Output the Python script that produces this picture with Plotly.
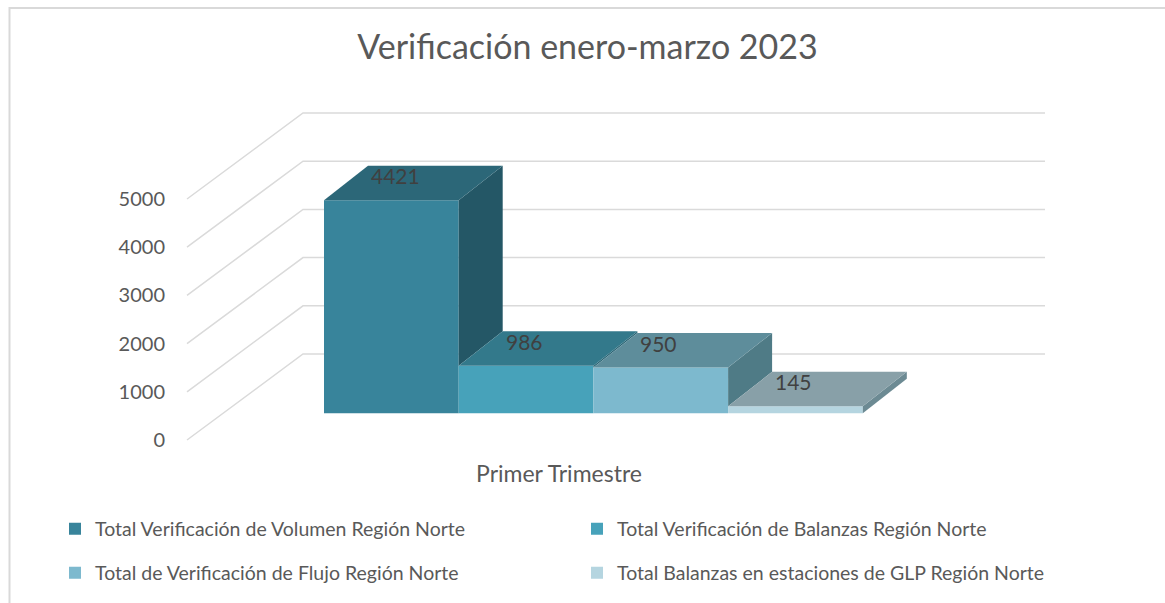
import plotly.graph_objects as go

# datos
categoria = "Primer Trimestre"
series = [
    "Total Verificación de Volumen Región Norte",
    "Total Verificación de Balanzas Región Norte",
    "Total de Verificación de Flujo Región Norte",
    "Total Balanzas en estaciones de GLP Región Norte",
]
valores = [4421, 986, 950, 145]
ticks_y = [0, 1000, 2000, 3000, 4000, 5000]

# colores: cara frontal, cara superior, cara lateral
color_frente = ["#38849B", "#47A2BA", "#7DB9CE", "#B5D5E0"]
color_arriba = ["#2C6778", "#33798B", "#5E8D9B", "#88A0A8"]
color_lado = ["#245766", "#2A6575", "#4F7B86", "#6C8A93"]

GRIS = "#595959"
FUENTE = "Lato"

# geometria en pixeles (falso 3D)
W, H = 1165, 603
L, R, T, B = 166, 1050, 95, 458
X0, PX_BAR = 324, 134.7
Y0, PX_VAL = 413.3, 0.0482


def xd(px):
    return (px - X0) / PX_BAR


def yd(px):
    return (Y0 - px) / PX_VAL


DX = 44 / PX_BAR
DY = 34.5 / PX_VAL
PISO_FRENTE_X, PISO_FONDO_X, PISO_DER_X = xd(187), xd(303), xd(1045)
PISO_FRENTE_Y, PISO_FONDO_Y = yd(440), yd(354)

# posicion de cada entrada de leyenda (px, fila)
leyenda_pos = [(55, 529), (577, 529), (55, 573), (577, 573)]

fig = go.Figure()

# barras (cara frontal)
for i, (nombre, v) in enumerate(zip(series, valores)):
    fig.add_trace(go.Bar(
        x=[i + 0.5], y=[v], width=1, name=nombre,
        marker=dict(color=color_frente[i], line=dict(width=0)),
        legend="legend" if i == 0 else f"legend{i + 1}",
        hovertemplate=categoria + "<br>" + nombre + ": %{y}<extra></extra>",
    ))

# caras superior y lateral
for i, v in enumerate(valores):
    bajo = min(valores[i + 1], v) if i < len(valores) - 1 else 0
    fig.add_trace(go.Scatter(
        x=[i + 1, i + 1, i + 1 + DX, i + 1 + DX, i + 1],
        y=[bajo, v, v + DY, bajo + DY, bajo],
        fill="toself", fillcolor=color_lado[i], mode="lines",
        line=dict(width=0), showlegend=False, hoverinfo="skip",
    ))
    fig.add_trace(go.Scatter(
        x=[i, i + 1, i + 1 + DX, i + DX, i],
        y=[v, v, v + DY, v + DY, v],
        fill="toself", fillcolor=color_arriba[i], mode="lines",
        line=dict(width=0), showlegend=False, hoverinfo="skip",
    ))
    fig.add_annotation(
        x=i + DX, y=v + DY, text=str(v), showarrow=False,
        xanchor="left", yanchor="middle", xshift=1, yshift=-10,
        font=dict(family=FUENTE, size=21, color="#404040"),
    )

# lineas de division en perspectiva
for t in ticks_y:
    fig.add_shape(
        type="path", xref="x", yref="y", layer="below",
        path=(f"M {PISO_FRENTE_X},{t + PISO_FRENTE_Y} "
              f"L {PISO_FONDO_X},{t + PISO_FONDO_Y} "
              f"L {PISO_DER_X},{t + PISO_FONDO_Y}"),
        line=dict(color="#DADADA", width=1.5),
    )


# marco del grafico
def px_papel(x, y):
    return (x - L) / (R - L), (B - y) / (B - T)


x1, y1 = px_papel(9.5, H + 5)
x2, y2 = px_papel(9.5, 8)
x3, y3 = px_papel(W + 5, 8)
fig.add_shape(type="path", xref="paper", yref="paper",
              path=f"M {x1},{y1} L {x2},{y2} L {x3},{y3}",
              line=dict(color="#D9D9D9", width=2))

leyendas = {}
for i, (lx, ly) in enumerate(leyenda_pos):
    clave = "legend" if i == 0 else f"legend{i + 1}"
    leyendas[clave] = dict(
        xref="container", yref="container", x=lx / W, y=1 - ly / H,
        xanchor="left", yanchor="middle", bgcolor="rgba(0,0,0,0)",
        font=dict(family=FUENTE, size=19.5, color=GRIS),
    )

fig.update_layout(
    width=W, height=H,
    margin=dict(l=L, r=W - R, t=T, b=H - B, autoexpand=False),
    paper_bgcolor="white", plot_bgcolor="white",
    barmode="overlay",
    font=dict(family=FUENTE, color=GRIS),
    title=dict(text="Verificación enero-marzo 2023", x=587.5 / W, y=1 - 47 / H,
               xref="container", yref="container", xanchor="center", yanchor="middle",
               font=dict(family=FUENTE, size=34, color=GRIS)),
    xaxis=dict(range=[xd(L), xd(R)], showgrid=False, zeroline=False, showline=False,
               tickvals=[xd(559)], ticktext=[categoria], ticks="",
               tickfont=dict(family=FUENTE, size=23, color=GRIS)),
    yaxis=dict(range=[yd(B), yd(T)], showgrid=False, zeroline=False, showline=False,
               tickvals=[t + PISO_FRENTE_Y for t in ticks_y],
               ticktext=[str(t) for t in ticks_y], ticks="",
               tickfont=dict(family=FUENTE, size=20, color=GRIS)),
    **leyendas,
)

# sin margen del body para que la figura ocupe la ventana exacta
fig.write_html("out.html", config={"displayModeBar": False},
               post_script="document.body.style.margin='0';")
